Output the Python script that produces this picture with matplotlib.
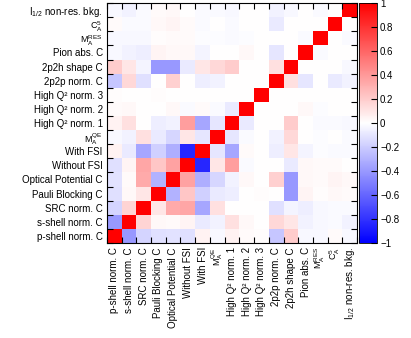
import numpy as np
import matplotlib
matplotlib.use("Agg")
import matplotlib.pyplot as plt
from matplotlib.colors import LinearSegmentedColormap

plt.rcParams['font.family'] = ['Liberation Sans', 'DejaVu Sans']
plt.rcParams['mathtext.fontset'] = 'custom'
plt.rcParams['mathtext.rm'] = 'Liberation Sans'
plt.rcParams['mathtext.it'] = 'Liberation Sans'

labels = ["p-shell norm. C", "s-shell norm. C", "SRC norm. C", "Pauli Blocking C",
          "Optical Potential C", "Without FSI", "With FSI", r"M$_\mathrm{A}^\mathrm{QE}$",
          "High Q\u00b2 norm. 1", "High Q\u00b2 norm. 2", "High Q\u00b2 norm. 3",
          "2p2p norm. C", "2p2h shape C", "Pion abs. C", r"M$_\mathrm{A}^\mathrm{RES}$",
          r"C$_\mathrm{A}^\mathrm{5}$", r"I$_\mathrm{1/2}$ non-res. bkg."]

row0 = [1, -0.4, -0.17, -0.12, -0.11, -0.12, 0.05, -0.03, 0.05, 0.02, 0.01, -0.22, 0.2, -0.03, -0.03, 0.02, -0.03]
row1 = [-0.4, 1, 0.17, 0.03, 0.02, 0.04, -0.08, -0.05, 0.12, 0.03, 0.0, 0.15, 0.1, -0.05, -0.03, -0.02, -0.05]
row2 = [-0.17, 0.17, 1, 0.1, 0.33, 0.35, -0.35, 0.12, 0.0, 0.0, 0.0, -0.12, -0.04, -0.07, -0.03, -0.02, -0.02]
row3 = [-0.12, 0.03, 0.1, 1, -0.3, 0.22, -0.18, -0.08, -0.07, 0.0, 0.01, 0.0, -0.4, 0.04, 0.01, 0.03, 0.02]
row4 = [-0.11, 0.02, 0.33, -0.3, 1, 0.36, -0.32, -0.16, -0.05, 0.03, 0.0, 0.18, -0.4, 0.03, 0.02, 0.04, 0.03]
row5 = [-0.12, 0.04, 0.35, 0.22, 0.36, 1, -0.85, 0.1, 0.38, -0.02, 0.0, 0.0, -0.08, 0.03, 0.02, 0.02, 0.0]
row6 = [0.05, -0.08, -0.35, -0.18, -0.32, -0.85, 1, -0.1, -0.35, 0.02, 0.0, -0.07, 0.1, -0.04, -0.01, -0.02, -0.02]
row7 = [-0.03, -0.05, 0.12, -0.08, -0.16, 0.1, -0.1, 1, -0.1, -0.02, 0.0, -0.05, 0.15, 0.0, -0.01, 0.0, -0.02]
row8 = [0.05, 0.12, 0.0, -0.07, -0.05, 0.38, -0.35, -0.1, 1, -0.08, 0.0, 0.0, 0.2, 0.0, -0.02, -0.02, -0.03]
row9 = [0.02, 0.03, 0.0, 0.0, 0.03, -0.02, 0.02, -0.02, -0.08, 1, 0.0, 0.0, 0.0, 0.03, -0.01, 0.0, 0.0]
row10 = [0.01, 0.0, 0.0, 0.01, 0.0, 0.0, 0.0, 0.0, 0.0, 0.0, 1, 0.0, 0.0, 0.0, 0.0, 0.0, 0.0]
row11 = [-0.22, 0.15, -0.12, 0.0, 0.18, 0.0, -0.07, -0.05, 0.0, 0.0, 0.0, 1, 0.12, -0.1, 0.0, -0.08, -0.05]
row12 = [0.2, 0.1, -0.04, -0.4, -0.4, -0.08, 0.1, 0.15, 0.2, 0.0, 0.0, 0.12, 1, 0.0, 0.0, 0.0, -0.03]
row13 = [-0.03, -0.05, -0.07, 0.04, 0.03, 0.03, -0.04, 0.0, 0.0, 0.03, 0.0, -0.1, 0.0, 1, -0.02, 0.0, 0.0]
row14 = [-0.03, -0.03, -0.03, 0.01, 0.02, 0.02, -0.01, -0.01, -0.02, -0.01, 0.0, 0.0, 0.0, -0.02, 1, 0.0, -0.02]
row15 = [0.02, -0.02, -0.02, 0.03, 0.04, 0.02, -0.02, 0.0, -0.02, 0.0, 0.0, -0.08, 0.0, 0.0, 0.0, 1, 0.0]
row16 = [-0.03, -0.05, -0.02, 0.02, 0.03, 0.0, -0.02, -0.02, -0.03, 0.0, 0.0, -0.05, -0.03, 0.0, -0.02, 0.0, 1]

M = np.array([row0, row1, row2, row3, row4, row5, row6, row7, row8, row9, row10,
              row11, row12, row13, row14, row15, row16])
n = len(labels)

cmap = LinearSegmentedColormap.from_list("bwr_root", [(0, 0, 1), (1, 1, 1), (1, 0, 0)])

fig = plt.figure(figsize=(4.11, 3.38), dpi=100)
ax = fig.add_axes([0.260, 0.281, 0.609, 0.710])
cax = fig.add_axes([0.874, 0.281, 0.044, 0.710])

edges = np.arange(n + 1) - 0.5
mesh = ax.pcolormesh(edges, edges, M, cmap=cmap, vmin=-1, vmax=1)
ax.set_xlim(-0.5, n - 0.5)
ax.set_ylim(-0.5, n - 0.5)

ax.set_xticks(np.arange(n))
ax.set_yticks(np.arange(n))
ax.set_xticklabels(labels, rotation=90, fontsize=7)
ax.set_yticklabels(labels, fontsize=7)
for t in ax.get_xticklabels() + ax.get_yticklabels():
    if t.get_text().startswith('M$') or t.get_text().startswith('C$'):
        t.set_fontsize(6.5)
ax.tick_params(which='major', length=0, pad=3)
ax.set_xticks(edges, minor=True)
ax.set_yticks(edges, minor=True)
ax.tick_params(which='minor', direction='in', length=4, width=0.8,
               top=True, right=True, bottom=True, left=True)
for s in ax.spines.values():
    s.set_linewidth(0.8)

cb = fig.colorbar(mesh, cax=cax)
cb.set_ticks(np.arange(-1, 1.01, 0.2))
cb.set_ticklabels(["\u22121", "\u22120.8", "\u22120.6", "\u22120.4", "\u22120.2", "0",
                   "0.2", "0.4", "0.6", "0.8", "1"])
cax.tick_params(direction='in', length=4, width=0.8, labelsize=7, pad=2)
cb.outline.set_linewidth(0.6)

fig.savefig("out.png", dpi=100)
